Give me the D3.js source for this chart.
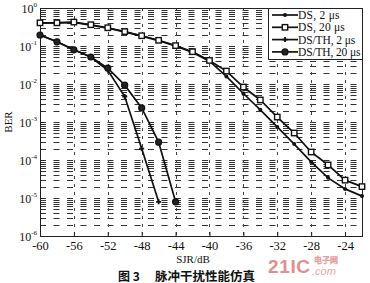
<!DOCTYPE html>
<html><head><meta charset="utf-8">
<script src="https://cdn.jsdelivr.net/npm/d3@7"></script>
<style>body{margin:0;background:#fff}svg{display:block}</style>
</head><body>
<svg id="c" width="370" height="283"></svg>
<script>
const sjr = [-60,-58,-56,-54,-52,-50,-48,-46,-44,-42,-40,-38,-36,-34,-32,-30,-28,-26,-24,-22];
const sjrTH2 = [-60,-58,-56,-54,-52,-50,-48,-46];
const sjrTH20 = [-60,-58,-56,-54,-52,-50,-48,-46,-44];
const logDS2  = [-0.39,-0.39,-0.38,-0.45,-0.53,-0.63,-0.74,-0.86,-1.0,-1.17,-1.4,-1.8,-2.25,-2.68,-3.13,-3.58,-4.05,-4.47,-4.76,-4.95];
const logDS20 = [-0.39,-0.39,-0.37,-0.44,-0.52,-0.62,-0.73,-0.85,-0.99,-1.15,-1.38,-1.66,-2.08,-2.42,-2.87,-3.29,-3.79,-4.13,-4.53,-4.7];
const logTH2  = [-0.71,-0.89,-1.1,-1.29,-1.64,-2.33,-3.7,-5.1];
const logTH20 = [-0.71,-0.89,-1.1,-1.29,-1.58,-2.03,-2.63,-3.53,-5.1];
const xTicks = [-60,-56,-52,-48,-44,-40,-36,-32,-28,-24];
const yExps = [0,-1,-2,-3,-4,-5,-6];
const legendLabels = ["DS, 2 μs","DS, 20 μs","DS/TH, 2 μs","DS/TH, 20 μs"];

const svg = d3.select("#c");
const L=40,R=362,T=8,B=236;
const x = d3.scaleLinear().domain([-60,-22]).range([L,R]);
const y = d3.scaleLog().domain([1e-6,1]).range([B,T]);
const serif = "'Liberation Serif','DejaVu Serif',serif";
const crisp = v => Math.round(v)+0.5;

// grid horizontal (minor + major)
const g = svg.append("g");
const hv = [];
for (let e=-6;e<0;e++) for (let m=1;m<10;m++) hv.push(m*Math.pow(10,e));
g.selectAll("line.h").data(hv.filter(v=>v<1 && v>1e-6)).join("line")
  .attr("x1",L).attr("x2",R).attr("y1",d=>crisp(y(d))).attr("y2",d=>crisp(y(d)))
  .attr("stroke","#333").attr("stroke-width",1).attr("stroke-dasharray","6,7.5");
g.selectAll("line.v").data(xTicks.filter(d=>d>-60)).join("line")
  .attr("x1",d=>crisp(x(d))).attr("x2",d=>crisp(x(d))).attr("y1",T).attr("y2",B)
  .attr("stroke","#444").attr("stroke-width",1).attr("stroke-dasharray","3,5");

// frame
svg.append("rect").attr("x",L+0.5).attr("y",T+0.5).attr("width",R-L).attr("height",B-T)
  .attr("fill","none").attr("stroke","#222").attr("stroke-width",1);

// axes
const xa = svg.append("g").attr("transform",`translate(0,${B})`)
  .call(d3.axisBottom(x).tickValues(xTicks).tickSizeInner(-4).tickSizeOuter(0).tickPadding(5).tickFormat(d=>d));
xa.select(".domain").remove();
xa.selectAll("text").attr("font-family",serif).attr("font-size",12.5).attr("fill","#111");
xa.selectAll("line").attr("stroke","#222");

const ya = svg.append("g").attr("transform",`translate(${L},0)`)
  .call(d3.axisLeft(y).tickValues(yExps.map(e=>Math.pow(10,e))).tickSizeInner(-4).tickSizeOuter(0).tickFormat(""));
ya.select(".domain").remove();
ya.selectAll("line").attr("stroke","#222");
const yl = svg.append("g");
yExps.forEach(e=>{
  const t = yl.append("text").attr("x",L-3).attr("y",y(Math.pow(10,e))+5)
    .attr("text-anchor","end").attr("font-family",serif).attr("font-size",12).attr("fill","#111");
  t.append("tspan").text("10");
  t.append("tspan").attr("dy",-6).attr("font-size",7).text(e===0?"0":"-"+(-e));
});
svg.append("text").attr("transform",`translate(12,122) rotate(-90)`).attr("text-anchor","middle")
  .attr("font-family",serif).attr("font-size",11).attr("fill","#111").text("BER");
svg.append("text").attr("x",193).attr("y",263).attr("text-anchor","middle")
  .attr("font-family",serif).attr("font-size",11).attr("fill","#111").text("SJR/dB");

// watermark (kept below tick labels)
svg.append("text").attr("x",268).attr("y",273).attr("font-family","'Liberation Sans',sans-serif")
  .attr("font-weight","bold").attr("font-size",19).attr("fill","#e07a7a").attr("opacity",0.85).attr("textLength",42).text("21IC");
svg.append("text").attr("x",314).attr("y",262.5).attr("font-family","'Noto Sans CJK SC'")
  .attr("font-size",8).attr("fill","none").attr("stroke","#e6a0a0").attr("stroke-width",0.6).text("电子网");
svg.append("text").attr("x",312).attr("y",275).attr("font-family","'Liberation Sans',sans-serif")
  .attr("font-style","italic").attr("font-size",11).attr("fill","#eaa8a8").text(".com");

// caption
svg.append("text").attr("x",118).attr("y",280.5).attr("font-family","'Noto Sans CJK SC'")
  .attr("font-weight","bold").attr("font-size",12).attr("fill","#111").text("图 3");
svg.append("text").attr("x",155).attr("y",280.5).attr("font-family","'Noto Sans CJK SC'")
  .attr("font-weight","bold").attr("font-size",12.5).attr("fill","#111").text("脉冲干扰性能仿真");

// series
const series = [
  {xs:sjr, ys:logDS2, m:"dot"},
  {xs:sjr, ys:logDS20, m:"square"},
  {xs:sjrTH2, ys:logTH2, m:"plus"},
  {xs:sjrTH20, ys:logTH20, m:"circle"}
];
const line = d3.line().x(d=>x(d[0])).y(d=>y(Math.pow(10,d[1])));
function marker(sel, type, cx, cy){
  if(type==="dot") sel.append("circle").attr("cx",cx).attr("cy",cy).attr("r",2).attr("fill","#111");
  else if(type==="square") sel.append("rect").attr("x",cx-2.7).attr("y",cy-2.7).attr("width",5.4).attr("height",5.4)
      .attr("fill","#fff").attr("stroke","#111").attr("stroke-width",1.4);
  else if(type==="plus"){ sel.append("path").attr("d",`M${cx-2.5},${cy}H${cx+2.5}M${cx},${cy-2.5}V${cy+2.5}`).attr("stroke","#111").attr("stroke-width",1.8);}
  else sel.append("circle").attr("cx",cx).attr("cy",cy).attr("r",3).attr("fill","#222").attr("stroke","#111").attr("stroke-width",1.2);
}
const sg = svg.append("g");
series.forEach(s=>{
  const pts = s.xs.map((v,i)=>[v,s.ys[i]]);
  sg.append("path").datum(pts).attr("d",line).attr("fill","none").attr("stroke","#111").attr("stroke-width",1.7);
});
series.forEach(s=>{
  s.xs.forEach((v,i)=>marker(sg,s.m,x(v),y(Math.pow(10,s.ys[i]))));
});

// legend
const lg = svg.append("g");
lg.append("rect").attr("x",268.5).attr("y",T+0.5).attr("width",R-268).attr("height",51)
  .attr("fill","#fff").attr("stroke","#222").attr("stroke-width",1);
legendLabels.forEach((lab,i)=>{
  const yy = 15 + i*12.3;
  lg.append("line").attr("x1",272).attr("x2",298).attr("y1",yy).attr("y2",yy).attr("stroke","#111").attr("stroke-width",1.7);
  marker(lg, series[i].m, 285, yy);
  lg.append("text").attr("x",298).attr("y",yy+4).attr("font-family",serif).attr("font-size",11.5)
    .attr("fill","#111").attr("textLength",lab.length*5.2).text(lab);
});
</script>
</body></html>
